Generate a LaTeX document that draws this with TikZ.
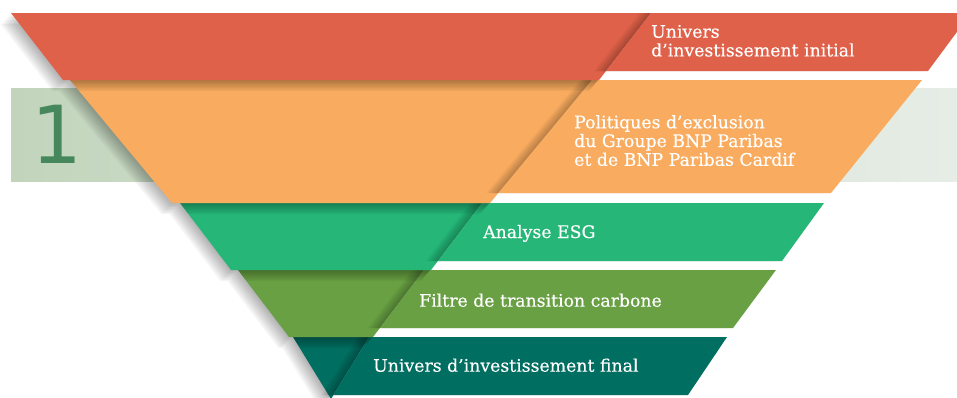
\documentclass[tikz,border=0pt]{standalone}
\usepackage{fontspec}
\setmainfont{DejaVu Serif}
\newfontfamily\lblfont{DejaVu Serif}[FakeBold=0.3]
\newfontfamily\numfont{DejaVu Sans}
\definecolor{cRed}{HTML}{E0614A}
\definecolor{cOrange}{HTML}{F9AC5F}
\definecolor{cGreen}{HTML}{25B678}
\definecolor{cOlive}{HTML}{68A043}
\definecolor{cTeal}{HTML}{006E60}
\definecolor{bgL}{HTML}{C2D5BC}
\definecolor{bgR}{HTML}{E6EDE6}
\definecolor{numc}{HTML}{46885B}
% #1 colour, #2 top y, #3 bottom y, #4 top half width, #5 bottom half width,
% #6 band bottom y, #7 band right x at top, #8 band right x at bottom
\newcommand\FunnelLayer[8]{%
  \pgfmathsetmacro\fLa{331-#4}\pgfmathsetmacro\fLb{331+#4}%
  \pgfmathsetmacro\fLc{331+#5}\pgfmathsetmacro\fLd{331-#5}%
  \pgfmathsetmacro\fLe{331+#4-(#4-#5)*(#6-#2)/(#3-#2)}%
  \foreach \k in {1,...,8}{\fill[black,opacity=0.04,shift={(-1.3*\k,1.4*\k)}]
    (\fLa,#2)--(\fLb,#2)--(\fLc,#3)--(\fLd,#3)--cycle;}
  \fill[#1] (\fLa,#2)--(\fLb,#2)--(\fLc,#3)--(\fLd,#3)--cycle;
  \foreach \k in {1,...,8}{\fill[black,opacity=0.033,shift={(-1.5*\k,0)}]
    (\fLb,#2)--(#7,#2)--(#8,#6)--(\fLe,#6)--cycle;}
  \fill[#1] (\fLb,#2)--(#7,#2)--(#8,#6)--(\fLe,#6)--cycle;
}
\newcommand\LblLines[1]{\begin{tabular}[t]{@{}l@{}}#1\end{tabular}}
\tikzset{
  lbl/.style={anchor=base west, inner sep=0pt, text=white,
    font=\lblfont\fontsize{17.3}{18.6}\selectfont},
}
\begin{document}
\begin{tikzpicture}[x=1pt,y=-1pt]
\clip (0,0) rectangle (957,397);
\fill[white] (0,0) rectangle (957,397);
\shade[left color=bgL, right color=bgR] (11,88) rectangle (957,181);
\node[anchor=base, inner sep=0pt, text=numc, font=\numfont\fontsize{80}{80}\selectfont] (num) at (57,163) {1};
\FunnelLayer{cTeal}{337}{399}{38}{0}{395}{727}{688}
\FunnelLayer{cOlive}{270}{337}{93}{42}{328}{776}{733}
\FunnelLayer{cGreen}{203}{270}{151}{100}{261}{824}{782}
\FunnelLayer{cOrange}{80}{203}{261}{159}{193}{922}{831}
\FunnelLayer{cRed}{13}{80}{320}{268}{71}{971}{928}
\node[lbl] (t1) at (651,37.7) {\LblLines{Univers\\d’investissement initial}};
\node[lbl] (t2) at (574,128.3) {\LblLines{Politiques d’exclusion\\du Groupe BNP Paribas\\et de BNP Paribas Cardif}};
\node[lbl] (t3) at (483,238) {Analyse ESG};
\node[lbl] (t4) at (419,306.7) {Filtre de transition carbone};
\node[lbl] (t5) at (373,371.7) {Univers d’investissement final};
\end{tikzpicture}
\end{document}
